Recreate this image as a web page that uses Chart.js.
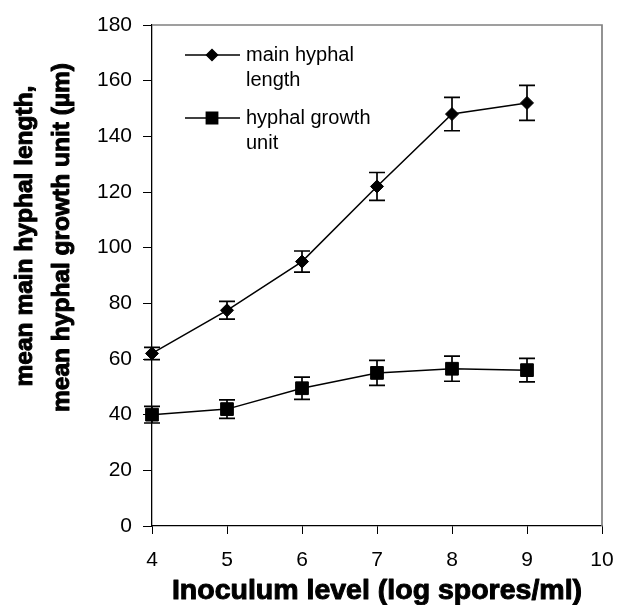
<!DOCTYPE html>
<html>
<head>
<meta charset="utf-8">
<script src="https://cdn.jsdelivr.net/npm/chart.js@4.4.0/dist/chart.umd.min.js"></script>
<style>
  html, body { margin: 0; padding: 0; background: #ffffff; }
  #wrap { width: 617px; height: 605px; }
</style>
</head>
<body>
<div id="wrap"><canvas id="chart" width="617" height="605"></canvas></div>
<script>
// Inoculum level (log spores/ml)
const inoculumLevels = [4, 5, 6, 7, 8, 9];

// Mean main hyphal length and its standard error
const mainHyphalLength = [62, 77.5, 95, 122, 148, 152];
const mainHyphalLengthErr = [2.2, 3.2, 3.8, 5, 6, 6.3];

// Mean hyphal growth unit and its standard error
const hyphalGrowthUnit = [40, 42, 49.5, 55, 56.5, 56];
const hyphalGrowthUnitErr = [3, 3.3, 4, 4.5, 4.5, 4.2];

const seriesLabels = [['main hyphal', 'length'], ['hyphal growth', 'unit']];
const xAxisTitle = 'Inoculum level (log spores/ml)';
const yAxisTitle = ['mean main hyphal length,', 'mean hyphal growth unit (µm)'];

const xTicks = { min: 4, max: 10, step: 1 };
const yTicks = { min: 0, max: 180, step: 20 };

const tickFont = { family: 'Liberation Sans, Arial, sans-serif', size: 21 };

// Vertical error bars with caps, drawn under the markers
const errorBarPlugin = {
  id: 'errorBars',
  beforeDatasetsDraw(chart) {
    const ctx = chart.ctx;
    const yScale = chart.scales.y;
    ctx.save();
    ctx.strokeStyle = '#000';
    ctx.lineWidth = 1.7;
    chart.data.datasets.forEach((ds, i) => {
      const meta = chart.getDatasetMeta(i);
      meta.data.forEach((pt, j) => {
        const v = ds.data[j].y;
        const e = ds.errors[j];
        const yTop = yScale.getPixelForValue(v + e);
        const yBot = yScale.getPixelForValue(v - e);
        const cap = 8;
        ctx.beginPath();
        ctx.moveTo(pt.x, yTop); ctx.lineTo(pt.x, yBot);
        ctx.moveTo(pt.x - cap, yTop); ctx.lineTo(pt.x + cap, yTop);
        ctx.moveTo(pt.x - cap, yBot); ctx.lineTo(pt.x + cap, yBot);
        ctx.stroke();
      });
    });
    ctx.restore();
  }
};

// Grey frame on the top and right sides of the plot area
const framePlugin = {
  id: 'frame',
  beforeDatasetsDraw(chart) {
    const { ctx, chartArea: a } = chart;
    ctx.save();
    ctx.strokeStyle = '#808080';
    ctx.lineWidth = 1.7;
    ctx.beginPath();
    ctx.moveTo(a.left, a.top);
    ctx.lineTo(a.right, a.top);
    ctx.lineTo(a.right, a.bottom);
    ctx.stroke();
    ctx.restore();
  }
};

// Heavy axis titles: two rotated lines on the left, one line under the x axis
function heavyText(ctx, text, x, y) {
  ctx.fillText(text, x, y);
  ctx.strokeText(text, x, y);
}

const axisTitlePlugin = {
  id: 'axisTitles',
  afterDraw(chart) {
    const { ctx, chartArea: a } = chart;
    ctx.save();
    ctx.fillStyle = '#000';
    ctx.strokeStyle = '#000';
    ctx.lineWidth = 1;
    ctx.lineJoin = 'round';
    ctx.textAlign = 'center';
    ctx.textBaseline = 'alphabetic';

    ctx.font = 'bold 24.5px "Liberation Sans", Arial, sans-serif';
    const baselines = [32, 69];
    const centers = [236, 237.5];
    yAxisTitle.forEach((line, i) => {
      ctx.save();
      ctx.translate(baselines[i], centers[i]);
      ctx.rotate(-Math.PI / 2);
      heavyText(ctx, line, 0, 0);
      ctx.restore();
    });

    ctx.font = 'bold 28.5px "Liberation Sans", Arial, sans-serif';
    heavyText(ctx, xAxisTitle, (a.left + a.right) / 2, 599);
    ctx.restore();
  }
};

// Legend inside the plot area with wrapped labels
const legendPlugin = {
  id: 'innerLegend',
  afterDraw(chart) {
    const ctx = chart.ctx;
    const rows = [55, 118];
    ctx.save();
    chart.data.datasets.forEach((ds, i) => {
      const y = rows[i];
      ctx.strokeStyle = '#000';
      ctx.lineWidth = 1.5;
      ctx.beginPath();
      ctx.moveTo(185, y); ctx.lineTo(240, y);
      ctx.stroke();
      ctx.fillStyle = '#000';
      Chart.helpers.drawPoint(ctx, {
        pointStyle: ds.pointStyle,
        radius: ds.pointStyle === 'rect' ? 8 : 5.5,
        borderWidth: 1
      }, 212, y);
      ctx.font = '20px "Liberation Sans", Arial, sans-serif';
      ctx.textAlign = 'left';
      ctx.textBaseline = 'middle';
      seriesLabels[i].forEach((t, k) => ctx.fillText(t, 246, y + k * 25));
    });
    ctx.restore();
  }
};

const toPoints = (xs, ys) => xs.map((x, i) => ({ x, y: ys[i] }));

new Chart(document.getElementById('chart'), {
  type: 'line',
  data: {
    datasets: [
      {
        label: seriesLabels[0].join(' '),
        data: toPoints(inoculumLevels, mainHyphalLength),
        errors: mainHyphalLengthErr,
        borderColor: '#000', backgroundColor: '#000', borderWidth: 1.5,
        pointStyle: 'rectRot', pointRadius: 6.5, pointHoverRadius: 6.5,
        pointBorderWidth: 1, tension: 0, clip: false
      },
      {
        label: seriesLabels[1].join(' '),
        data: toPoints(inoculumLevels, hyphalGrowthUnit),
        errors: hyphalGrowthUnitErr,
        borderColor: '#000', backgroundColor: '#000', borderWidth: 1.5,
        pointStyle: 'rect', pointRadius: 9, pointHoverRadius: 9,
        pointBorderWidth: 1, tension: 0, clip: false
      }
    ]
  },
  options: {
    responsive: false,
    devicePixelRatio: 1,
    animation: false,
    events: [],
    layout: { padding: { top: 25, right: 15, left: 0, bottom: 0 } },
    plugins: { legend: { display: false }, tooltip: { enabled: false } },
    scales: {
      x: {
        type: 'linear',
        min: xTicks.min, max: xTicks.max,
        ticks: { stepSize: xTicks.step, color: '#000', font: tickFont, padding: 14, maxRotation: 0 },
        grid: { drawOnChartArea: false, drawTicks: true, tickLength: 8, color: '#000', lineWidth: 1 },
        border: { color: '#000', width: 1.3 },
        afterFit(scale) {
          scale.height = 79;
          scale.paddingLeft = 0;
          scale.paddingRight = 0;
        }
      },
      y: {
        min: yTicks.min, max: yTicks.max,
        ticks: { stepSize: yTicks.step, color: '#000', font: tickFont, padding: 11 },
        grid: { drawOnChartArea: false, drawTicks: true, tickLength: 9, color: '#000', lineWidth: 1 },
        border: { color: '#000', width: 1.3 },
        afterFit(scale) {
          scale.width = 152;
          scale.paddingTop = 0;
          scale.paddingBottom = 0;
        }
      }
    }
  },
  plugins: [framePlugin, errorBarPlugin, axisTitlePlugin, legendPlugin]
});
</script>
</body>
</html>
